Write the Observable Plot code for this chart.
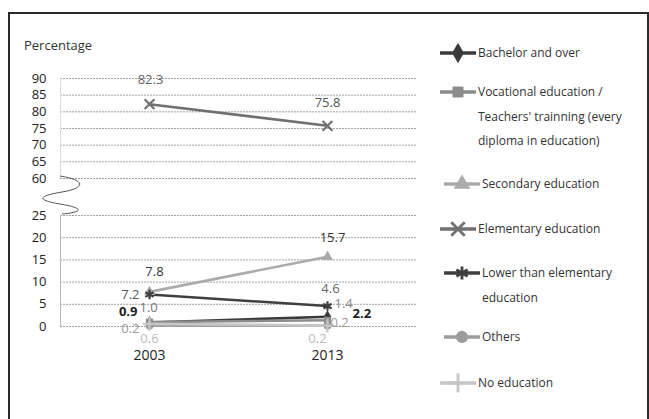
<!DOCTYPE html>
<html><head><meta charset="utf-8">
<script src="https://cdn.jsdelivr.net/npm/d3@7"></script>
<script src="https://cdn.jsdelivr.net/npm/@observablehq/plot@0.6"></script>
<style>
body{margin:0;background:#fff;font-family:"Open Sans",sans-serif;width:649px;height:419px;overflow:hidden;position:relative;}
#frame{position:absolute;left:8px;top:12px;width:641px;height:420px;border:2px solid #2a2a2a;border-bottom:none;box-sizing:border-box;}
#title{position:absolute;left:24px;top:36px;font-size:13px;color:#333;}
#upper{position:absolute;left:0;top:66px;}
#lower{position:absolute;left:0;top:203px;}
#brk{position:absolute;left:0;top:0;width:120px;height:230px;overflow:visible;}
.leg{position:absolute;left:438px;display:flex;align-items:flex-start;font-size:12px;color:#333;line-height:24.5px;}
.leg svg{flex:none;margin-top:0px;}
</style></head><body>
<div id="frame"></div>
<div id="title">Percentage</div>
<div id="upper"></div>
<div id="lower"></div>
<svg id="brk"></svg>
<div id="legend"></div>
<script>
// ---- data ----
const years = ["2003", "2013"];
const series = ["Bachelor and over", "Vocational education / Teachers' trainning (every diploma in education)", "Secondary education", "Elementary education", "Lower than elementary education", "Others", "No education"];
const values2003 = [0.9, 1.0, 7.8, 82.3, 7.2, 0.2, 0.6];
const values2013 = [2.2, 1.4, 15.7, 75.8, 4.6, 0.2, 0.2];
const upperTicks = [60, 65, 70, 75, 80, 85, 90];
const lowerTicks = [0, 5, 10, 15, 20, 25];
const legendLines = [["Bachelor and over"], ["Vocational education /", "Teachers' trainning (every", "diploma in education)"], ["Secondary education"], ["Elementary education"], ["Lower than elementary", "education"], ["Others"], ["No education"]];

// ---- style ----
const colors = ["#3a3a3a", "#8c8c8c", "#ababab", "#707070", "#3f3f3f", "#9c9c9c", "#c6c6c6"];
const symbols = ["diamond", "square", "triangle", "times", "asterisk", "circle", "plus"];
const strokeSymbols = new Set(["times", "asterisk", "plus"]);
// label placement per [series][year]: dx, dy, anchor, color, weight
const labelStyle = [
  [{dx:-12,dy:-11,a:"end",c:"#222",w:"bold"}, {dx:25,dy:-3,a:"start",c:"#222",w:"bold"}],
  [{dx:-10,dy:-14,a:"start",c:"#777",w:"normal"}, {dx:7,dy:-16,a:"start",c:"#888",w:"normal"}],
  [{dx:5,dy:-20,a:"middle",c:"#333",w:"normal"}, {dx:5,dy:-19,a:"middle",c:"#333",w:"normal"}],
  [{dx:1,dy:-24,a:"middle",c:"#666",w:"normal"}, {dx:0,dy:-23,a:"middle",c:"#555",w:"normal"}],
  [{dx:-10,dy:0,a:"end",c:"#555",w:"normal"}, {dx:3,dy:-17,a:"middle",c:"#666",w:"normal"}],
  [{dx:-10,dy:3,a:"end",c:"#999",w:"normal"}, {dx:3,dy:-3,a:"start",c:"#999",w:"normal"}],
  [{dx:0,dy:15,a:"middle",c:"#bbb",w:"normal"}, {dx:-10,dy:13,a:"middle",c:"#bbb",w:"normal"}]
];

const rows = series.flatMap((s, i) => years.map((y, j) => ({series: s, i, j, year: y, value: j ? values2013[i] : values2003[i]})));

function marksFor(data) {
  const ms = [];
  ms.push(Plot.line(data, {x: "year", y: "value", z: "series", stroke: d => colors[d.i], strokeWidth: 2.6}));
  const filled = data.filter(d => !strokeSymbols.has(symbols[d.i]));
  const stroked = data.filter(d => strokeSymbols.has(symbols[d.i]));
  ms.push(Plot.dot(filled, {x: "year", y: "value", symbol: d => symbols[d.i], fill: d => colors[d.i], r: 4, stroke: "none"}));
  ms.push(Plot.dot(stroked, {x: "year", y: "value", symbol: d => symbols[d.i], stroke: d => colors[d.i], r: 4.5, strokeWidth: 2.2}));
  for (const d of data) {
    const l = labelStyle[d.i][d.j];
    ms.push(Plot.text([d], {x: "year", y: "value", text: v => v.value.toFixed(1), dx: l.dx, dy: l.dy, textAnchor: l.a, fill: l.c, fontWeight: l.w, fontSize: 13}));
  }
  return ms;
}

const common = {
  width: 420, marginLeft: 60, marginRight: 4,
  style: {fontFamily: "Open Sans, sans-serif", fontSize: "13px", color: "#222", background: "transparent", overflow: "visible"},
  symbol: {type: "identity"}, color: {type: "identity"}
};

const upper = Plot.plot({
  ...common,
  height: 120, marginTop: 12, marginBottom: 8,
  x: {type: "point", domain: years, padding: 0.5, axis: null},
  y: {domain: [60, 90], ticks: upperTicks, tickSize: 0, tickPadding: 14, label: null},
  marks: [
    Plot.gridY(upperTicks, {stroke: "#888", strokeOpacity: 0.8, strokeDasharray: "2,1"}),
    Plot.ruleX([years[0]], {dx: -89, y1: 60, y2: 90, stroke: "#ddd"}),
    ...marksFor(rows.filter(d => d.value >= 60))
  ]
});
document.getElementById("upper").append(upper);

const lower = Plot.plot({
  ...common,
  height: 165, marginTop: 12, marginBottom: 42,
  x: {type: "point", domain: years, padding: 0.5, tickSize: 0, tickPadding: 24, label: null},
  y: {domain: [0, 25], ticks: lowerTicks, tickSize: 0, tickPadding: 14, label: null},
  marks: [
    Plot.gridY(lowerTicks, {stroke: "#888", strokeOpacity: 0.8, strokeDasharray: "2,1"}),
    Plot.ruleX([years[0]], {dx: -89, y1: 0, y2: 25, stroke: "#bbb"}),
    ...marksFor(rows.filter(d => d.value < 60))
  ]
});
document.getElementById("lower").append(lower);
d3.select(lower).selectAll('g[aria-label="x-axis tick label"] text, g[aria-label="x-axis"] text').style("font-size", "14px").style("font-weight", "500");

// axis break decoration
d3.select("#brk").append("path")
  .attr("d", "M60,176 C86,180 86,188 62,192 S36,200 60,204 S84,212 62,214")
  .attr("fill", "none").attr("stroke", "#555").attr("stroke-width", 1);

// legend
const legTops = [41, 80, 172, 217, 261, 325, 371];
const leg = d3.select("#legend");
series.forEach((s, i) => {
  const item = leg.append("div").attr("class", "leg").style("top", legTops[i] + "px").style("left", (i === 2 || i === 4 || i === 5 ? 442 : 438) + "px");
  const sv = item.append("svg").attr("width", 40).attr("height", 24);
  sv.append("line").attr("x1", 2).attr("x2", 38).attr("y1", 12).attr("y2", 12).attr("stroke", colors[i]).attr("stroke-width", 3.5);
  const sym = {diamond: d3.symbolDiamond, square: d3.symbolSquare, triangle: d3.symbolTriangle, times: d3.symbolTimes, asterisk: d3.symbolAsterisk, circle: d3.symbolCircle, plus: d3.symbolPlus}[symbols[i]];
  const p = sv.append("path").attr("transform", "translate(20,12)").attr("d", d3.symbol(sym, 120)());
  if (strokeSymbols.has(symbols[i])) p.attr("fill", "none").attr("stroke", colors[i]).attr("stroke-width", 2.8);
  else p.attr("fill", colors[i]);
  item.append("div").html(legendLines[i].join("<br>"));
});
</script>
</body></html>
